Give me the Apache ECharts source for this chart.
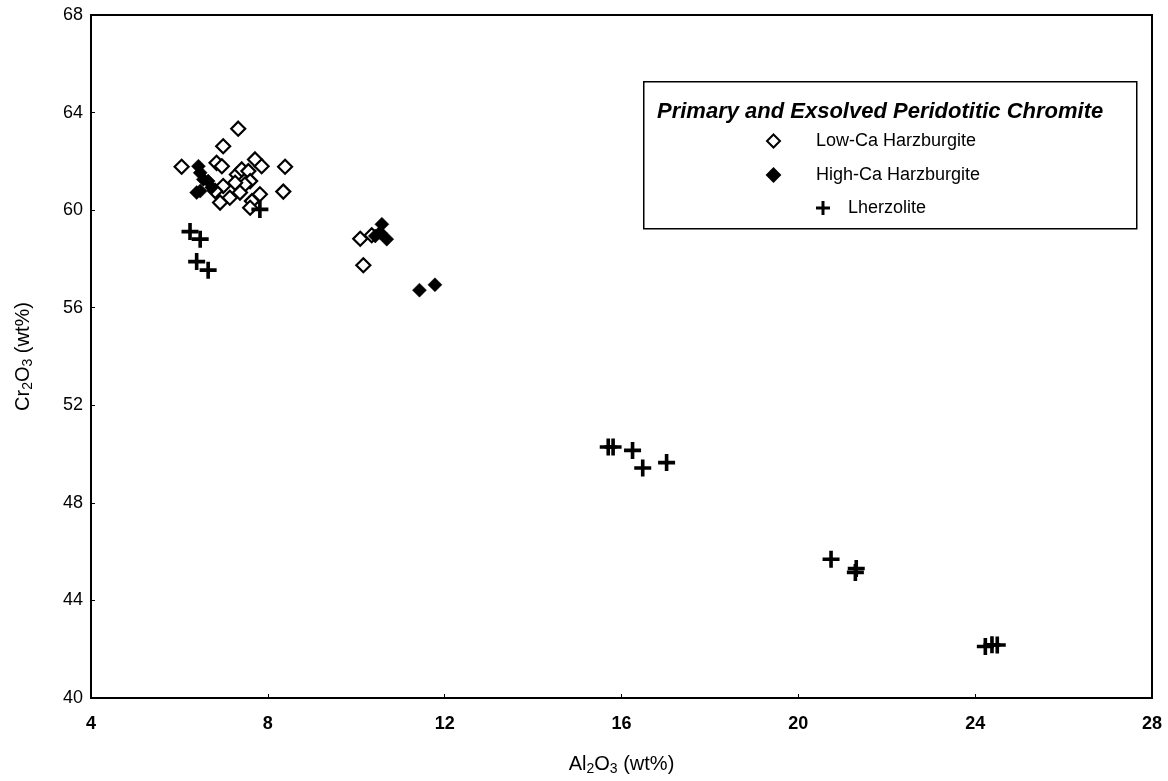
<!DOCTYPE html>
<html>
<head>
<meta charset="utf-8">
<script src="https://cdn.jsdelivr.net/npm/echarts@6/dist/echarts.min.js"></script>
<style>
  html, body { margin: 0; padding: 0; background: #fff; }
  #chart { width: 1168px; height: 781px; }
</style>
</head>
<body>
<div id="chart"></div>
<script>
// Al2O3 (wt%), Cr2O3 (wt%) pairs
var lowCaHarzburgite = [
  [7.33, 63.34], [6.99, 62.62], [6.05, 61.78], [6.84, 61.94], [6.96, 61.80],
  [7.71, 62.08], [7.86, 61.80], [8.39, 61.78], [8.35, 60.76], [7.30, 61.46],
  [7.41, 61.67], [7.56, 61.60], [7.60, 61.19], [7.48, 61.05], [7.26, 61.12],
  [6.99, 60.99], [6.81, 60.78], [6.92, 60.31], [7.14, 60.51], [7.37, 60.72],
  [7.64, 60.37], [7.82, 60.65], [7.60, 60.10],
  [10.09, 58.83], [10.16, 57.74], [10.35, 58.97]
];
var highCaHarzburgite = [
  [6.43, 61.80], [6.47, 61.53], [6.65, 61.19], [6.54, 61.26], [6.47, 60.78],
  [6.39, 60.72], [6.73, 60.93],
  [10.58, 59.42], [10.43, 58.94], [10.69, 58.81], [10.54, 59.08],
  [11.43, 56.72], [11.78, 56.94]
];
var lherzolite = [
  [6.24, 59.12], [6.47, 58.81], [6.39, 57.89], [6.65, 57.54], [7.82, 60.03],
  [15.70, 50.29], [15.81, 50.29], [16.25, 50.15], [16.48, 49.43], [17.02, 49.65],
  [20.74, 45.69], [21.31, 45.31], [21.29, 45.15],
  [24.23, 42.11], [24.38, 42.18], [24.50, 42.17]
];

var seriesNames = ['Low-Ca Harzburgite', 'High-Ca Harzburgite', 'Lherzolite'];
var legendTitle = 'Primary and Exsolved Peridotitic Chromite';

var plusPath = 'path://M6.3,0H9.7V6.3H16V9.7H9.7V16H6.3V9.7H0V6.3H6.3Z';
var font = 'Liberation Sans, Arial, sans-serif';

var chart = echarts.init(document.getElementById('chart'));

chart.setOption({
  backgroundColor: '#fff',
  animation: false,
  grid: {
    left: 91, top: 15, width: 1061, height: 685,
    show: true, borderColor: '#000', borderWidth: 2, backgroundColor: 'transparent'
  },
  xAxis: {
    type: 'value', min: 4, max: 28, interval: 4,
    name: '{n|Al}{s|2}{n|O}{s|3}{n| (wt%)}',
    nameLocation: 'middle', nameGap: 54,
    nameTextStyle: {
      rich: {
        n: { fontFamily: font, fontSize: 20, color: '#000', lineHeight: 24 },
        s: { fontFamily: font, fontSize: 14, color: '#000', verticalAlign: 'bottom', lineHeight: 24, padding: [10, 0, 0, 0] }
      }
    },
    axisLine: { lineStyle: { color: '#000', width: 2 } },
    axisTick: { inside: true, length: 4, lineStyle: { color: '#000', width: 1 } },
    axisLabel: { color: '#000', fontFamily: font, fontSize: 18, fontWeight: 'bold', margin: 17 },
    splitLine: { show: false }
  },
  yAxis: {
    type: 'value', min: 40, max: 68, interval: 4,
    name: '{n|Cr}{s|2}{n|O}{s|3}{n| (wt%)}',
    nameLocation: 'middle', nameGap: 56, nameRotate: 90,
    nameTextStyle: {
      rich: {
        n: { fontFamily: font, fontSize: 20, color: '#000', lineHeight: 24 },
        s: { fontFamily: font, fontSize: 14, color: '#000', verticalAlign: 'bottom', lineHeight: 24, padding: [10, 0, 0, 0] }
      }
    },
    axisLine: { lineStyle: { color: '#000', width: 2 } },
    axisTick: { inside: true, length: 4, lineStyle: { color: '#000', width: 1 } },
    axisLabel: { color: '#000', fontFamily: font, fontSize: 18, margin: 8 },
    splitLine: { show: false }
  },
  legend: [
    {
      data: [seriesNames[0], seriesNames[1]],
      orient: 'vertical', left: 761, top: 126,
      itemWidth: 13, itemHeight: 13, itemGap: 14,
      textStyle: { fontFamily: font, fontSize: 18, color: '#000', lineHeight: 20, padding: [0, 0, 0, 31] }
    },
    {
      data: [seriesNames[2]],
      orient: 'vertical', left: 811, top: 193,
      itemWidth: 14, itemHeight: 14,
      textStyle: { fontFamily: font, fontSize: 18, color: '#000', lineHeight: 20, padding: [0, 0, 0, 13] }
    }
  ],
  graphic: [
    {
      type: 'rect', left: 643, top: 81, z: 10,
      shape: { width: 493, height: 147 },
      style: { fill: 'transparent', stroke: '#000', lineWidth: 1.5 }
    },
    {
      type: 'text', left: 657, top: 101, z: 10,
      style: {
        text: legendTitle, fill: '#000',
        font: 'italic bold 22px Liberation Sans, Arial, sans-serif'
      }
    }
  ],
  series: [
    {
      name: seriesNames[0], type: 'scatter', data: lowCaHarzburgite,
      symbol: 'diamond', symbolSize: 14,
      itemStyle: { color: '#fff', borderColor: '#000', borderWidth: 2.2, opacity: 1 }
    },
    {
      name: seriesNames[1], type: 'scatter', data: highCaHarzburgite,
      symbol: 'diamond', symbolSize: 14,
      itemStyle: { color: '#000', borderColor: '#000', borderWidth: 0.5, opacity: 1 }
    },
    {
      name: seriesNames[2], type: 'scatter', data: lherzolite,
      symbol: plusPath, symbolSize: 17,
      itemStyle: { color: '#000', opacity: 1 }
    }
  ]
});
</script>
</body>
</html>
